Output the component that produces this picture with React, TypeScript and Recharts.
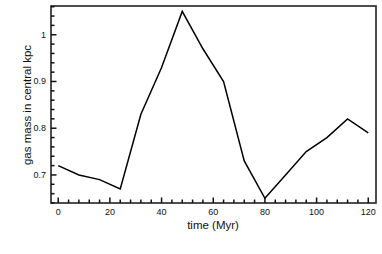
import { LineChart, Line, XAxis, YAxis } from 'recharts';

const times = [0, 8, 16, 24, 32, 40, 48, 56, 64, 72, 80, 88, 96, 104, 112, 120];
const gasMass = [0.72, 0.70, 0.69, 0.67, 0.83, 0.93, 1.05, 0.97, 0.90, 0.73, 0.65, 0.70, 0.75, 0.78, 0.82, 0.79];

const xTicks = [0, 4, 8, 12, 16, 20, 24, 28, 32, 36, 40, 44, 48, 52, 56, 60, 64, 68, 72, 76, 80, 84, 88, 92, 96, 100, 104, 108, 112, 116, 120];
const yTicks = [0.64, 0.66, 0.68, 0.7, 0.72, 0.74, 0.76, 0.78, 0.8, 0.82, 0.84, 0.86, 0.88, 0.9, 0.92, 0.94, 0.96, 0.98, 1, 1.02, 1.04, 1.06];

const data = times.map((t, i) => ({ t, m: gasMass[i] }));

const FONT = '"Liberation Sans", Arial, sans-serif';

const W = 382;
const H = 254;
const M = { top: 6, right: 6, left: 0, bottom: 0 };
const Y_AXIS_W = 51;
const X_AXIS_H = 51;

// inward ticks, long on labelled values
const XTick = (props: any) => {
  const { x, y, payload } = props;
  const major = payload.value % 20 === 0;
  return (
    <g>
      <path d={`M${x},${y}V${y - (major ? 5.5 : 3.5)}`} stroke="#111" strokeWidth={1.5} />
      {major && (
        <text x={x} y={y + 12} textAnchor="middle" fontSize={9} fontFamily={FONT} fill="#111">
          {payload.value}
        </text>
      )}
    </g>
  );
};

const YTick = (props: any) => {
  const { x, y, payload } = props;
  const v = payload.value;
  const major = Math.abs(v * 10 - Math.round(v * 10)) < 1e-6;
  return (
    <g>
      <path d={`M${x},${y}H${x + (major ? 5.5 : 3.5)}`} stroke="#111" strokeWidth={1.5} />
      {major && (
        <text x={x - 5} y={y + 3} textAnchor="end" fontSize={9} fontFamily={FONT} fill="#111">
          {String(Math.round(v * 10) / 10)}
        </text>
      )}
    </g>
  );
};

export default function App() {
  return (
    <div style={{ position: 'absolute', left: 0, top: 0, background: '#fff' }}>
      <LineChart width={W} height={H} data={data} margin={M}>
        <XAxis
          dataKey="t"
          type="number"
          domain={[-2.8, 123]}
          ticks={xTicks}
          interval={0}
          tick={<XTick />}
          tickLine={false}
          axisLine={false}
          tickSize={0}
          tickMargin={0}
          height={X_AXIS_H}
          allowDataOverflow
        />
        <YAxis
          type="number"
          domain={[0.64, 1.0615]}
          ticks={yTicks}
          interval={0}
          tick={<YTick />}
          tickLine={false}
          axisLine={false}
          tickSize={0}
          tickMargin={0}
          width={Y_AXIS_W}
          allowDataOverflow
        />
        {/* plot frame */}
        <rect
          x={M.left + Y_AXIS_W}
          y={M.top}
          width={W - M.left - M.right - Y_AXIS_W}
          height={H - M.top - M.bottom - X_AXIS_H}
          fill="none"
          stroke="#222"
          strokeWidth={1.6}
        />
        <Line dataKey="m" type="linear" stroke="#000" strokeWidth={1.5} dot={false} isAnimationActive={false} />
        <text x={213} y={229} textAnchor="middle" fontSize={11.5} fontFamily={FONT} fill="#111">
          time (Myr)
        </text>
        <text
          x={31}
          y={105}
          textAnchor="middle"
          fontSize={11.5}
          fontFamily={FONT}
          fill="#111"
          transform="rotate(-90 31 105)"
        >
          gas mass in central kpc
        </text>
      </LineChart>
    </div>
  );
}
